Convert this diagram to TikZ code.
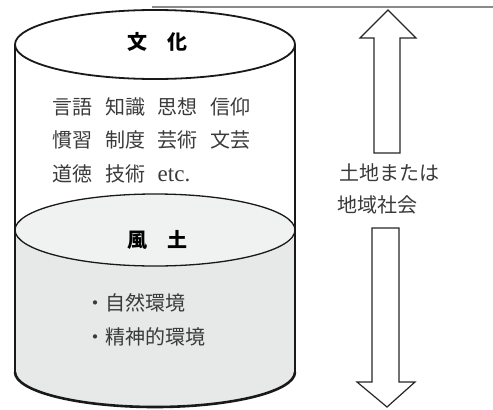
\documentclass[tikz,border=0pt]{standalone}
\usepackage{fontspec}
\newfontfamily\cjk{Noto Sans CJK JP}
\newfontfamily\serifetc{Liberation Serif}
\definecolor{lowgray}{HTML}{E7E8E8}
\definecolor{midgray}{HTML}{F0F1F1}
\definecolor{txtgray}{HTML}{3A3A3A}
\definecolor{rulegray}{HTML}{8A8A8A}
\tikzset{
  cyl/.style={line width=1.8bp, draw=black!90},
  arrowshape/.style={draw=black!85, line width=1.2bp, fill=white, line join=miter},
  body/.style={inner sep=0pt, anchor=west, text=txtgray, font=\cjk\fontsize{20bp}{24bp}\selectfont},
  title/.style={inner sep=0pt, text=black, font=\cjk\bfseries\fontsize{20bp}{24bp}\selectfont},
}
\newcommand{\wordbox}[1]{\makebox[52.5bp][l]{#1}}
\begin{document}
\begin{tikzpicture}[x=1bp,y=1bp]
\useasboundingbox (0,0) rectangle (493,409);
% top rule
\draw[rulegray, line width=1.5bp] (152,402) -- (493,402);
% lower gray body
\fill[lowgray] (15,179) -- (15,37) arc[start angle=180, end angle=360, x radius=140, y radius=35] -- (295,179)
  arc[start angle=0, end angle=-180, x radius=140, y radius=36] -- cycle;
% middle surface
\fill[midgray] (155,179) ellipse[x radius=140, y radius=36];
\draw[line width=1.3bp, black!90] (155,179) ellipse[x radius=140, y radius=36];
% sides
\draw[cyl] (15,364.5) -- (15,37);
\draw[cyl] (295,364.5) -- (295,37);
% bottom arc
\draw[line width=2.6bp, black!90] (15,37) arc[start angle=180, end angle=360, x radius=140, y radius=35];
% top ellipse
\draw[cyl, fill=white] (155,364.5) ellipse[x radius=140, y radius=34.5];
% titles
\node[title] (bunka) at (157,367) {文\hspace{1em}化};
\node[title] (fudo) at (157,169) {風\hspace{1em}土};
% culture items
\node[body] (l1) at (52.5,302) {\wordbox{言語}\wordbox{知識}\wordbox{思想}信仰};
\node[body] (l2) at (52.5,269) {\wordbox{慣習}\wordbox{制度}\wordbox{芸術}文芸};
\node[body] (l3) at (52.5,235) {\wordbox{道徳}\wordbox{技術}{\serifetc\fontsize{23bp}{24bp}\selectfont etc.}};
% environment items
\node[body] (e1) at (85,106) {・自然環境};
\node[body] (e2) at (85,72) {・精神的環境};
% right labels
\node[body] (r1) at (339,236) {土地または};
\node[body] (r2) at (337,204) {地域社会};
% arrows
\draw[arrowshape] (388,399) -- (416,371) -- (400,371) -- (400,256) -- (374,256) -- (374,371) -- (360,371) -- cycle;
\draw[arrowshape] (372,181) -- (399,181) -- (399,27) -- (415,27) -- (387,2) -- (357,27) -- (372,27) -- cycle;
\end{tikzpicture}
\end{document}
